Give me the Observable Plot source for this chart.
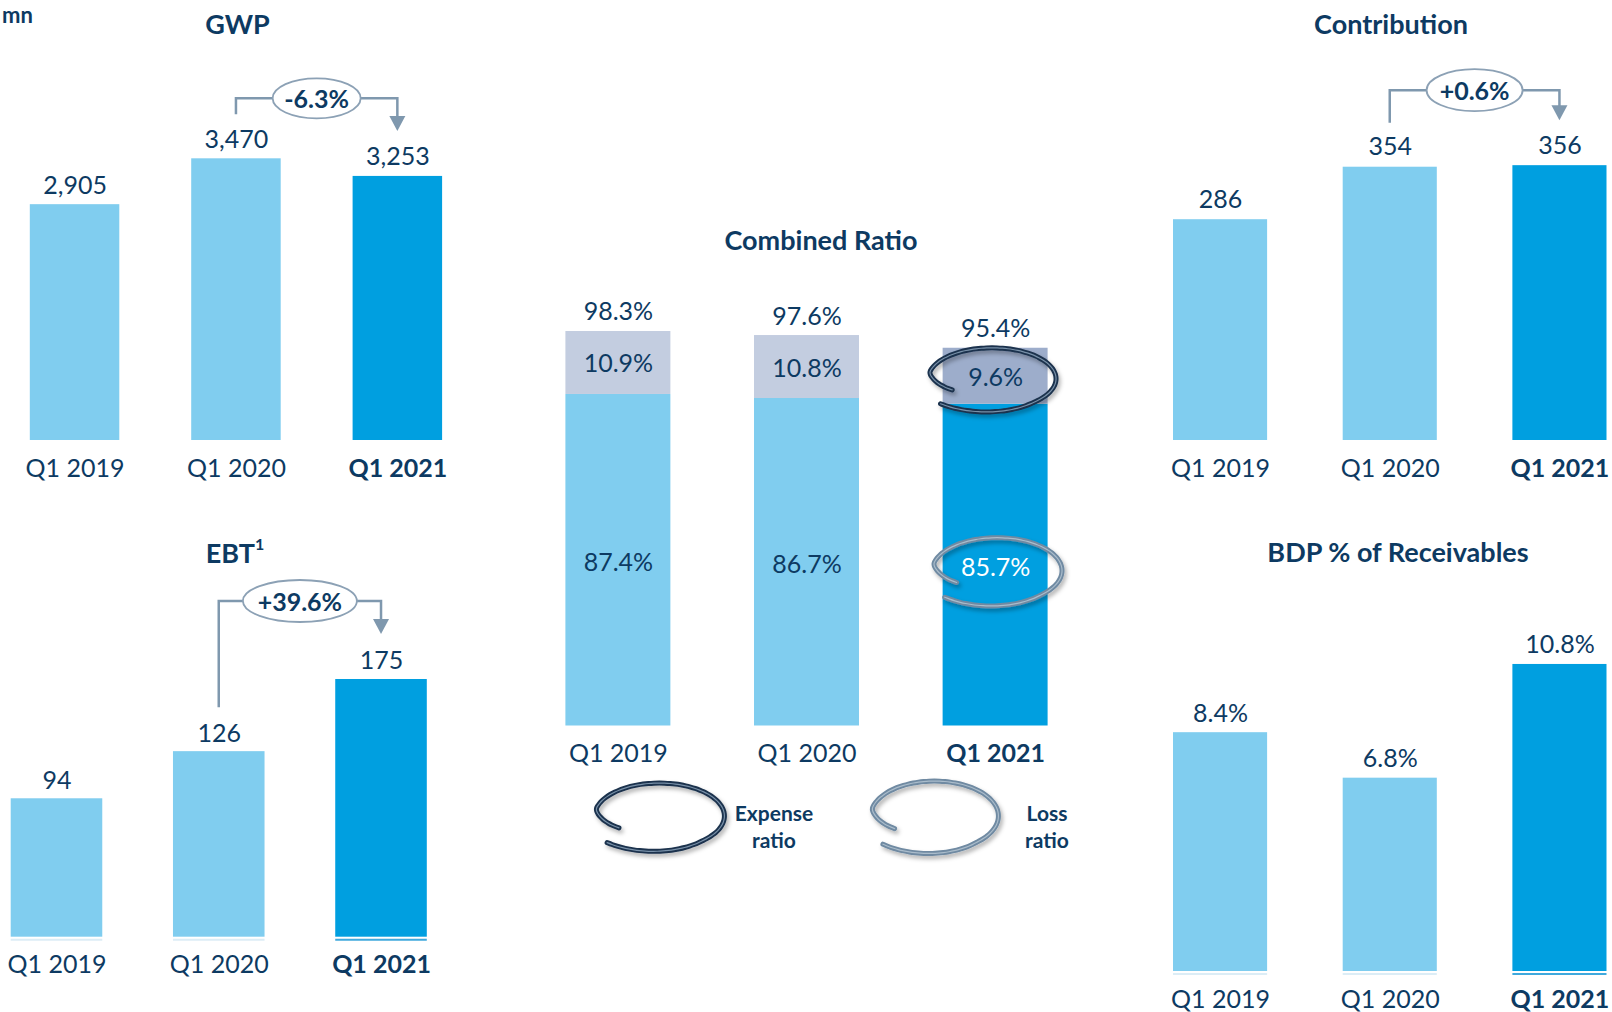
<!DOCTYPE html>
<html>
<head>
<meta charset="utf-8">
<script src="https://cdn.jsdelivr.net/npm/d3@7"></script>
<script src="https://cdn.jsdelivr.net/npm/@observablehq/plot@0.6"></script>
<style>
  html, body { margin: 0; padding: 0; background: #ffffff; }
  #stage { position: relative; width: 1612px; height: 1012px; overflow: hidden; background: #ffffff; font-family: Lato, "Open Sans", sans-serif; }
  #stage svg { position: absolute; left: 0; top: 0; }
</style>
</head>
<body>
<div id="stage"></div>
<script>
// ---------------- DATA ----------------
const quarters = ["Q1 2019", "Q1 2020", "Q1 2021"];
const currentQuarter = "Q1 2021";
const gwp = [2905, 3470, 3253];
const ebt = [94, 126, 175];
const contribution = [286, 354, 356];
const bdpReceivables = [8.4, 6.8, 10.8];
const lossRatio = [87.4, 86.7, 85.7];
const expenseRatio = [10.9, 10.8, 9.6];
const combinedRatio = [98.3, 97.6, 95.4];
const gwpChange = "-6.3%";
const ebtChange = "+39.6%";
const contributionChange = "+0.6%";
const titles = ["GWP", "EBT", "Combined Ratio", "Contribution", "BDP % of Receivables"];
const legendLabels = [["Expense", "ratio"], ["Loss", "ratio"]];
const unitLabel = "mn";

// ---------------- STYLE ----------------
const NAVY = "#0d3a62";
const LIGHT = "#80CDEF";
const DARK = "#009FE0";
const EXP_LIGHT = "#C3CDE0";
const EXP_DARK = "#9DADCB";
const ARROW = "#7F98AE";
const FONT = "Lato, 'Open Sans', sans-serif";
const stage = document.getElementById("stage");
const fmtInt = d3.format(",");
const fmtPct = v => d3.format(".1f")(v) + "%";

function mount(svg) {
  svg.style.position = "absolute";
  svg.style.left = "0px";
  svg.style.top = "0px";
  svg.style.background = "transparent";
  svg.style.overflow = "visible";
  stage.appendChild(svg);
  return svg;
}

function barPanel(cfg) {
  const rows = quarters.map((q, i) => ({q, v: cfg.values[i], cur: q === currentQuarter}));
  const y0 = cfg.yDomain[0];
  const marks = [
    Plot.barY(rows, {x: "q", y1: y0, y2: "v", fill: d => d.cur ? DARK : LIGHT}),
    Plot.text(rows, {x: "q", y: "v", text: d => cfg.fmt(d.v), dy: cfg.labelDy ?? -19, fontSize: 25, fill: NAVY}),
    Plot.text(rows.filter(d => !d.cur), {x: "q", y: y0, text: "q", dy: 28, fontSize: 25, fill: NAVY}),
    Plot.text(rows.filter(d => d.cur), {x: "q", y: y0, text: "q", dy: 28, fontSize: 25, fontWeight: 700, fill: NAVY})
  ];
  if (cfg.underline) {
    marks.push(Plot.tickY(rows, {x: "q", y: y0, dy: 2.5, stroke: d => d.cur ? "#3fa9dd" : "#dcedf6", strokeWidth: 2}));
  }
  const chart = Plot.plot({
    width: 1612, height: 1012, margin: 0,
    style: {background: "transparent", fontFamily: FONT, overflow: "visible"},
    x: {domain: quarters, range: cfg.xRange, paddingInner: cfg.padding, paddingOuter: 0, round: false, axis: null},
    y: {domain: cfg.yDomain, range: cfg.yRange, axis: null},
    marks
  });
  mount(chart);
  return chart;
}

function addBracket(chart, vals, change, rise, rx, ry) {
  const xs = chart.scale("x"), ys = chart.scale("y");
  const cx = q => xs.apply(q) + xs.bandwidth / 2;
  const x1 = cx(quarters[1]), x2 = cx(quarters[2]);
  const ya = ys.apply(vals[1]), yb = ys.apply(vals[2]);
  const yStart = ya - 44, yTip = yb - 45;
  const yTop = Math.min(ya, yb) - rise;
  const g = d3.select(chart).append("g");
  g.append("path")
    .attr("d", `M${x1},${yStart}V${yTop}H${x2}V${yTip - 14}`)
    .attr("fill", "none").attr("stroke", ARROW).attr("stroke-width", 2.5);
  g.append("path")
    .attr("d", `M${x2 - 8},${yTip - 15}L${x2 + 8},${yTip - 15}L${x2},${yTip}Z`)
    .attr("fill", ARROW);
  const mx = (x1 + x2) / 2;
  g.append("ellipse").attr("cx", mx).attr("cy", yTop).attr("rx", rx).attr("ry", ry)
    .attr("fill", "#fff").attr("stroke", "#8CA1B5").attr("stroke-width", 1.8);
  g.append("text").attr("x", mx).attr("y", yTop).attr("text-anchor", "middle")
    .attr("dominant-baseline", "central")
    .attr("font-family", FONT).attr("font-weight", 700).attr("font-size", 25)
    .attr("fill", NAVY).text(change);
}

function loopPoints(cx, cy, rx, ry) {
  const pts = [];
  const a0 = 150 * Math.PI / 180, sweep = 345 * Math.PI / 180;
  for (let i = 0; i <= 72; i++) {
    const t = i / 72;
    const r = t < 0.12 ? 0.72 + 0.28 * t / 0.12 : (t > 0.75 ? 1 + 0.14 * (t - 0.75) / 0.25 : 1);
    const a = a0 + sweep * t;
    pts.push([cx + rx * r * Math.cos(a), cy + ry * r * Math.sin(a)]);
  }
  return pts;
}
const loopLine = d3.line().curve(d3.curveBasis);

function drawLoop(sel, cx, cy, rx, ry, outer, inner, filterId) {
  const d = loopLine(loopPoints(cx, cy, rx, ry));
  const g = sel.append("g").attr("filter", `url(#${filterId})`);
  g.append("path").attr("d", d).attr("fill", "none").attr("stroke", outer)
    .attr("stroke-width", 5).attr("stroke-linecap", "round");
  g.append("path").attr("d", d).attr("fill", "none").attr("stroke", inner)
    .attr("stroke-width", 1.2).attr("stroke-linecap", "round");
}

function addShadow(sel, id) {
  const f = sel.append("defs").append("filter").attr("id", id)
    .attr("x", "-20%").attr("y", "-30%").attr("width", "140%").attr("height", "170%");
  f.append("feDropShadow").attr("dx", 2).attr("dy", 3).attr("stdDeviation", 2)
    .attr("flood-color", "#000").attr("flood-opacity", 0.3);
}

// ---------------- GWP ----------------
const gwpChart = barPanel({
  values: gwp, fmt: fmtInt,
  xRange: [29.8, 442.1], padding: 0.4455,
  yDomain: [0, 4000], yRange: [440, 440 - 0.08118 * 4000]
});
addBracket(gwpChart, gwp, gwpChange, 60, 44, 20);

// ---------------- EBT ----------------
const ebtChart = barPanel({
  values: ebt, fmt: fmtInt,
  xRange: [10.7, 426.8], padding: 0.4357,
  yDomain: [0, 200], yRange: [936.7, 936.7 - 1.4726 * 200],
  underline: true, labelDy: -18
});
addBracket(ebtChart, ebt, ebtChange, 78, 57, 21);

// ---------------- CONTRIBUTION ----------------
const contribChart = barPanel({
  values: contribution, fmt: fmtInt,
  xRange: [1173, 1606.5], padding: 0.4454,
  yDomain: [0, 400], yRange: [440, 440 - 0.772 * 400], labelDy: -20
});
addBracket(contribChart, contribution, contributionChange, 75, 48, 21);

// ---------------- BDP ----------------
barPanel({
  values: bdpReceivables, fmt: fmtPct,
  xRange: [1173, 1606.5], padding: 0.4454,
  yDomain: [0, 12], yRange: [971, 971 - 28.43 * 12],
  underline: true
});

// ---------------- COMBINED RATIO ----------------
const crMin = 30;
const crRows = quarters.map((q, i) => ({
  q, loss: lossRatio[i], expense: expenseRatio[i], total: combinedRatio[i], cur: q === currentQuarter
}));
const crChart = Plot.plot({
  width: 1612, height: 1012, margin: 0,
  style: {background: "transparent", fontFamily: FONT, overflow: "visible"},
  x: {domain: quarters, range: [565.4, 1047.6], paddingInner: 0.4434, paddingOuter: 0, round: false, axis: null},
  y: {domain: [crMin, 100], range: [725.5, 725.5 - 5.776 * 70], axis: null},
  marks: [
    Plot.barY(crRows, {x: "q", y1: crMin, y2: "loss", fill: d => d.cur ? DARK : LIGHT}),
    Plot.barY(crRows, {x: "q", y1: "loss", y2: "total", fill: d => d.cur ? EXP_DARK : EXP_LIGHT}),
    Plot.text(crRows, {x: "q", y: "total", text: d => fmtPct(d.total), dy: -19, fontSize: 25, fill: NAVY}),
    Plot.text(crRows, {x: "q", y: d => (d.loss + d.total) / 2, text: d => fmtPct(d.expense), dy: 1.5, fontSize: 25, fill: NAVY}),
    Plot.text(crRows, {x: "q", y: d => (crMin + d.loss) / 2, text: d => fmtPct(d.loss), dy: 2.5, fontSize: 25, fill: d => d.cur ? "#ffffff" : NAVY}),
    Plot.text(crRows.filter(d => !d.cur), {x: "q", y: crMin, text: "q", dy: 28, fontSize: 25, fill: NAVY}),
    Plot.text(crRows.filter(d => d.cur), {x: "q", y: crMin, text: "q", dy: 28, fontSize: 25, fontWeight: 700, fill: NAVY})
  ]
});
mount(crChart);
{
  const sel = d3.select(crChart);
  addShadow(sel, "loopShadow");
  const xs = crChart.scale("x"), ys = crChart.scale("y");
  const cur = crRows.find(d => d.cur);
  const cx = xs.apply(cur.q) + xs.bandwidth / 2;
  drawLoop(sel, cx - 3, ys.apply((cur.loss + cur.total) / 2) + 3, 64, 31, "#1b324d", "#7890a8", "loopShadow");
  drawLoop(sel, cx + 2, ys.apply((crMin + cur.loss) / 2) + 6, 65, 33, "#6f8aa2", "#aabccb", "loopShadow");
}

// ---------------- TITLES, UNIT, LEGEND ----------------
const ann = d3.create("svg").attr("width", 1612).attr("height", 1012)
  .attr("font-family", FONT).attr("fill", NAVY);
addShadow(ann, "loopShadow2");

ann.append("text").attr("x", 2).attr("y", 1).attr("dominant-baseline", "text-before-edge")
  .attr("font-weight", 700).attr("font-size", 22).text(unitLabel);

const titlePos = [[237.5, 22.6], [235, 552], [821, 238.5], [1391, 22.6], [1398, 551]];
titles.forEach((t, i) => {
  const tx = ann.append("text").attr("x", titlePos[i][0]).attr("y", titlePos[i][1])
    .attr("text-anchor", "middle").attr("dominant-baseline", "central")
    .attr("font-weight", 700).attr("font-size", 27);
  tx.append("tspan").text(t);
  if (t === "EBT") tx.append("tspan").attr("dy", -9).attr("font-size", 16).text("1");
});

// legend loops + labels
const legendPos = [
  {cx: 659.5, cy: 816, rx: 65, ry: 33, outer: "#1b324d", inner: "#7890a8", tx: 774},
  {cx: 934.5, cy: 816, rx: 64, ry: 35, outer: "#6f8aa2", inner: "#aabccb", tx: 1047}
];
legendPos.forEach((p, i) => {
  drawLoop(ann, p.cx, p.cy, p.rx, p.ry, p.outer, p.inner, "loopShadow2");
  legendLabels[i].forEach((w, j) => {
    ann.append("text").attr("x", p.tx).attr("y", 812 + j * 27)
      .attr("text-anchor", "middle").attr("dominant-baseline", "central")
      .attr("font-weight", 700).attr("font-size", 21).text(w);
  });
});
mount(ann.node());
</script>
</body>
</html>
